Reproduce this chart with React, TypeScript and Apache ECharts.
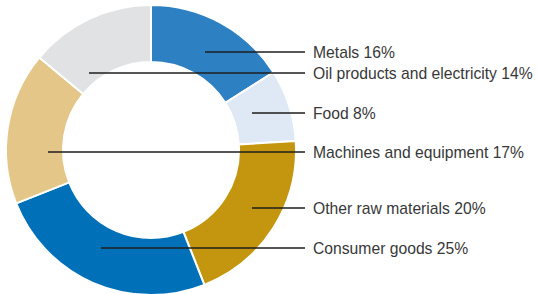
import React, { useEffect, useRef } from "react";
import * as echarts from "echarts";

const categories = [
  "Metals",
  "Food",
  "Other raw materials",
  "Consumer goods",
  "Machines and equipment",
  "Oil products and electricity",
];
const shares = [16, 8, 20, 25, 17, 14];
const colors = ["#2d80c2", "#dfe8f5", "#c4960f", "#0070b8", "#e3c688", "#e1e2e4"];

// label layout (positions only): leader-line start x and label y, per slice
const lineStartX = [205, 252, 252, 101, 48, 89];
const labelY = [52, 113, 208, 248, 152, 73];
const lineEndX = 305;
const labelX = 313;

export default function App() {
  const ref = useRef<HTMLDivElement>(null);
  useEffect(() => {
    if (!ref.current) return;
    const chart = echarts.init(ref.current, null, { renderer: "svg" });
    const common = {
      type: "pie",
      center: [151, 150],
      radius: [88, 145],
      startAngle: 90,
      clockwise: true,
      avoidLabelOverlap: false,
    };
    chart.setOption({
      animation: false,
      backgroundColor: "#ffffff",
      series: [
        {
          ...common,
          z: 2,
          itemStyle: { borderColor: "#ffffff", borderWidth: 2 },
          label: { show: false },
          labelLine: { show: false },
          silent: true,
          data: categories.map((name, i) => ({
            name,
            value: shares[i],
            itemStyle: { color: colors[i] },
          })),
        },
        {
          ...common,
          z: 5,
          silent: true,
          itemStyle: { color: "rgba(0,0,0,0)", borderWidth: 0 },
          label: {
            show: true,
            position: "outside",
            formatter: "{b} {c}%",
            fontSize: 15.7,
            fontFamily: "Liberation Sans, Arial, sans-serif",
            color: "#383838",
          },
          labelLine: {
            show: true,
            lineStyle: { color: "#1e1e1e", width: 1.5 },
          },
          labelLayout: (params: any) => {
            const i = params.dataIndex;
            const y = labelY[i];
            return {
              x: labelX,
              y: y,
              align: "left",
              verticalAlign: "middle",
              labelLinePoints: [
                [lineStartX[i], y],
                [lineStartX[i], y],
                [lineEndX, y],
              ],
            };
          },
          data: categories.map((name, i) => ({
            name,
            value: shares[i],
          })),
        },
      ],
    });
    return () => chart.dispose();
  }, []);
  return (
    <div
      ref={ref}
      style={{ position: "fixed", left: 0, top: 0, width: 538, height: 294 }}
    />
  );
}
